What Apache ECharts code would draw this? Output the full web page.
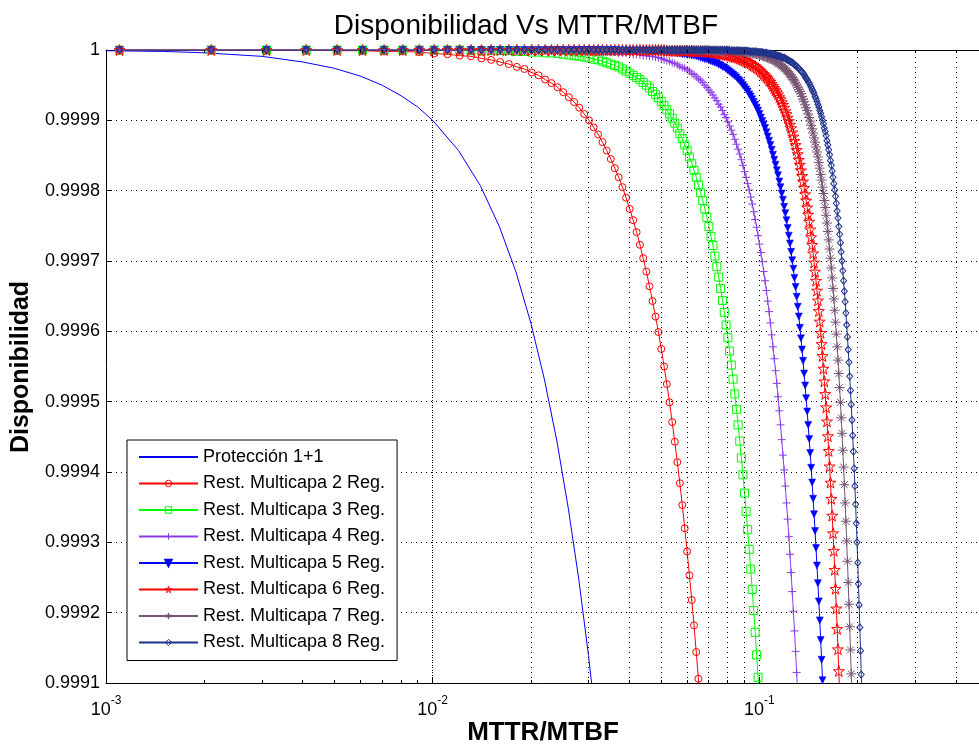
<!DOCTYPE html>
<html><head><meta charset="utf-8">
<script src="https://cdn.jsdelivr.net/npm/echarts@6/dist/echarts.min.js"></script>
<style>html,body{margin:0;padding:0;background:#fff}#c{width:979px;height:746px}</style>
</head><body><div id="c"></div>
<script>
const FONT = '"Liberation Sans", Arial, Helvetica, sans-serif';

// MTTR/MTBF sample positions (x) shared by the marker series
const mttrRatio = [
0.0011,0.0021,0.0031,0.0041,0.0051,0.0061,0.0071,0.0081,0.0091,0.0101,
0.0111,0.0121,0.0131,0.0141,0.0151,0.0161,0.0171,0.0181,0.0191,0.0201,
0.0211,0.0221,0.0231,0.0241,0.0251,0.0261,0.0271,0.0281,0.0291,0.0301,
0.0311,0.0321,0.0331,0.0341,0.0351,0.0361,0.0371,0.0381,0.0391,0.0401,
0.0411,0.0421,0.0431,0.0441,0.0451,0.0461,0.0471,0.0481,0.0491,0.0501,
0.0511,0.0521,0.0531,0.0541,0.0551,0.0561,0.0571,0.0581,0.0591,0.0601,
0.0611,0.0621,0.0631,0.0641,0.0651,0.0661,0.0671,0.0681,0.0691,0.0701,
0.0711,0.0721,0.0731,0.0741,0.0751,0.0761,0.0771,0.0781,0.0791,0.0801,
0.0811,0.0821,0.0831,0.0841,0.0851,0.0861,0.0871,0.0881,0.0891,0.0901,
0.0911,0.0921,0.0931,0.0941,0.0951,0.0961,0.0971,0.0981,0.0991,0.1001,
0.1011,0.1021,0.1031,0.1041,0.1051,0.1061,0.1071,0.1081,0.1091,0.1101,
0.1111,0.1121,0.1131,0.1141,0.1151,0.1161,0.1171,0.1181,0.1191,0.1201,
0.1211,0.1221,0.1231,0.1241,0.1251,0.1261,0.1271,0.1281,0.1291,0.1301,
0.1311,0.1321,0.1331,0.1341,0.1351,0.1361,0.1371,0.1381,0.1391,0.1401,
0.1411,0.1421,0.1431,0.1441,0.1451,0.1461,0.1471,0.1481,0.1491,0.1501,
0.1511,0.1521,0.1531,0.1541,0.1551,0.1561,0.1571,0.1581,0.1591,0.1601,
0.1611,0.1621,0.1631,0.1641,0.1651,0.1661,0.1671,0.1681,0.1691,0.1701,
0.1711,0.1721,0.1731,0.1741,0.1751,0.1761,0.1771,0.1781,0.1791,0.1801,
0.1811,0.1821,0.1831,0.1841,0.1851,0.1861,0.1871,0.1881,0.1891,0.1901,
0.1911,0.1921,0.1931,0.1941,0.1951,0.1961,0.1971,0.1981,0.1991,0.2001,
0.2011,0.2021,0.2031,0.2041,0.2051,0.2061];

// Protección 1+1 (line only)
const protX = [0.001,0.0015,0.002,0.003,0.004,0.005,0.006,0.007,0.008,0.009,0.01,0.012,0.014,0.016,0.018,0.02,0.022,0.024,0.026,0.028,0.03,0.032];
const protY = [0.999999,0.999998,0.999996,0.999991,0.999983,0.999974,0.999963,0.99995,0.999935,0.999919,0.9999,0.999857,0.999807,0.999749,0.999684,0.999611,0.999531,0.999444,0.999349,0.999248,0.999139,0.999022];

const reg2 = [
1,1,1,1,0.999999,0.999999,0.999998,0.999998,0.999997,0.999995,
0.999994,0.999992,0.999991,0.999988,0.999986,0.999983,0.99998,0.999976,0.999973,0.999968,
0.999964,0.999958,0.999953,0.999947,0.99994,0.999933,0.999926,0.999918,0.999909,0.9999,
0.99989,0.99988,0.999869,0.999857,0.999845,0.999832,0.999819,0.999805,0.99979,0.999774,
0.999758,0.999741,0.999723,0.999704,0.999685,0.999664,0.999643,0.999621,0.999599,0.999575,
0.99955,0.999525,0.999499,0.999471,0.999443,0.999414,0.999384,0.999353,0.99932,0.999287,
0.999253,0.999218,0.999182,0.999144,0.999106,0.999066];

const reg3 = [
1,1,1,1,1,1,1,1,1,1,
1,1,0.999999,0.999999,0.999999,0.999999,0.999999,0.999998,0.999998,0.999997,
0.999997,0.999996,0.999996,0.999995,0.999994,0.999993,0.999992,0.999991,0.99999,0.999989,
0.999987,0.999986,0.999984,0.999982,0.99998,0.999978,0.999976,0.999973,0.99997,0.999967,
0.999964,0.999961,0.999958,0.999954,0.99995,0.999946,0.999941,0.999937,0.999932,0.999927,
0.999921,0.999915,0.999909,0.999903,0.999896,0.999889,0.999881,0.999874,0.999865,0.999857,
0.999848,0.999839,0.999829,0.999819,0.999808,0.999797,0.999786,0.999774,0.999762,0.999749,
0.999735,0.999722,0.999707,0.999692,0.999677,0.999661,0.999644,0.999627,0.999609,0.999591,
0.999572,0.999552,0.999532,0.999511,0.999489,0.999467,0.999444,0.99942,0.999396,0.99937,
0.999344,0.999318,0.99929,0.999262,0.999233,0.999203,0.999172,0.99914,0.999108,0.999075];

const reg4 = [
1,1,1,1,1,1,1,1,1,1,
1,1,1,1,1,1,1,1,1,1,
1,1,1,0.999999,0.999999,0.999999,0.999999,0.999999,0.999999,0.999999,
0.999998,0.999998,0.999998,0.999998,0.999997,0.999997,0.999996,0.999996,0.999996,0.999995,
0.999994,0.999994,0.999993,0.999992,0.999992,0.999991,0.999991,0.99999,0.999989,0.999988,
0.999986,0.999985,0.999984,0.999982,0.999981,0.999979,0.999977,0.999975,0.999974,0.999972,
0.99997,0.999967,0.999965,0.999962,0.999959,0.999957,0.999954,0.99995,0.999947,0.999943,
0.99994,0.999936,0.999932,0.999928,0.999923,0.999919,0.999914,0.999908,0.999904,0.999898,
0.999892,0.999886,0.99988,0.999873,0.999866,0.999859,0.999852,0.999844,0.999836,0.999827,
0.999819,0.99981,0.999801,0.999791,0.999781,0.99977,0.999759,0.999748,0.999736,0.999724,
0.999712,0.999699,0.999685,0.999672,0.999658,0.999643,0.999628,0.999612,0.999595,0.999578,
0.999561,0.999544,0.999526,0.999507,0.999487,0.999467,0.999446,0.999424,0.999403,0.99938,
0.999356,0.999333,0.999308,0.999283,0.999257,0.99923,0.999202,0.999174,0.999145,0.999115,
0.999084];

const reg5 = [
1,1,1,1,1,1,1,1,1,1,
1,1,1,1,1,1,1,1,1,1,
1,1,1,1,1,1,1,1,1,1,
1,1,1,1,1,1,0.999999,0.999999,0.999999,0.999999,
0.999999,0.999999,0.999999,0.999999,0.999999,0.999998,0.999998,0.999998,0.999998,0.999997,
0.999997,0.999997,0.999997,0.999996,0.999996,0.999995,0.999995,0.999994,0.999994,0.999993,
0.999993,0.999992,0.999992,0.999991,0.99999,0.999989,0.999988,0.999987,0.999987,0.999985,
0.999984,0.999983,0.999982,0.999981,0.999979,0.999978,0.999976,0.999975,0.999973,0.999971,
0.999969,0.999967,0.999965,0.999963,0.999961,0.999958,0.999956,0.999953,0.99995,0.999947,
0.999944,0.999941,0.999937,0.999934,0.99993,0.999926,0.999922,0.999918,0.999914,0.999909,
0.999904,0.999899,0.999894,0.999889,0.999883,0.999877,0.999871,0.999865,0.999858,0.999851,
0.999844,0.999837,0.999829,0.999822,0.999813,0.999805,0.999796,0.999787,0.999777,0.999768,
0.999758,0.999747,0.999736,0.999725,0.999713,0.999701,0.999689,0.999676,0.999663,0.999649,
0.999635,0.999621,0.999605,0.99959,0.999574,0.999558,0.99954,0.999523,0.999505,0.999486,
0.999467,0.999447,0.999427,0.999406,0.999385,0.999362,0.99934,0.999316,0.999292,0.999267,
0.999242,0.999216,0.999189,0.999161,0.999133,0.999104,0.999073];

const reg6 = [
1,1,1,1,1,1,1,1,1,1,
1,1,1,1,1,1,1,1,1,1,
1,1,1,1,1,1,1,1,1,1,
1,1,1,1,1,1,1,1,1,1,
1,1,1,1,1,1,1,1,1,1,
1,0.999999,0.999999,0.999999,0.999999,0.999999,0.999999,0.999999,0.999999,0.999999,
0.999999,0.999999,0.999998,0.999998,0.999998,0.999998,0.999998,0.999997,0.999997,0.999997,
0.999997,0.999996,0.999996,0.999996,0.999995,0.999995,0.999994,0.999994,0.999993,0.999993,
0.999992,0.999992,0.999991,0.99999,0.99999,0.999989,0.999988,0.999987,0.999986,0.999985,
0.999984,0.999983,0.999982,0.999981,0.999979,0.999978,0.999977,0.999975,0.999974,0.999972,
0.99997,0.999968,0.999966,0.999964,0.999962,0.99996,0.999957,0.999955,0.999952,0.999949,
0.999946,0.999943,0.99994,0.999937,0.999933,0.99993,0.999926,0.999922,0.999918,0.999913,
0.999909,0.999904,0.999899,0.999894,0.999889,0.999883,0.999877,0.999871,0.999865,0.999858,
0.999852,0.999844,0.999837,0.999829,0.999821,0.999813,0.999804,0.999795,0.999786,0.999776,
0.999766,0.999756,0.999745,0.999734,0.999723,0.999711,0.999698,0.999685,0.999672,0.999658,
0.999644,0.999629,0.999614,0.999598,0.999582,0.999565,0.999547,0.999529,0.999511,0.999492,
0.999472,0.999451,0.99943,0.999408,0.999385,0.999362,0.999338,0.999313,0.999288,0.999261,
0.999234,0.999206,0.999177,0.999148,0.999117,0.999086];

const reg7 = [
1,1,1,1,1,1,1,1,1,1,
1,1,1,1,1,1,1,1,1,1,
1,1,1,1,1,1,1,1,1,1,
1,1,1,1,1,1,1,1,1,1,
1,1,1,1,1,1,1,1,1,1,
1,1,1,1,1,1,1,1,1,1,
1,1,1,1,1,1,1,1,1,1,
0.999999,0.999999,0.999999,0.999999,0.999999,0.999999,0.999999,0.999999,0.999999,0.999999,
0.999999,0.999998,0.999998,0.999998,0.999998,0.999998,0.999998,0.999997,0.999997,0.999997,
0.999997,0.999996,0.999996,0.999996,0.999995,0.999995,0.999994,0.999994,0.999994,0.999993,
0.999993,0.999992,0.999991,0.999991,0.99999,0.999989,0.999988,0.999988,0.999987,0.999986,
0.999985,0.999984,0.999983,0.999981,0.99998,0.999979,0.999977,0.999976,0.999974,0.999973,
0.999971,0.999969,0.999967,0.999965,0.999963,0.999961,0.999958,0.999956,0.999953,0.99995,
0.999947,0.999944,0.999941,0.999938,0.999934,0.99993,0.999927,0.999922,0.999918,0.999914,
0.999909,0.999904,0.999899,0.999893,0.999888,0.999882,0.999875,0.999869,0.999862,0.999855,
0.999848,0.99984,0.999832,0.999823,0.999815,0.999805,0.999796,0.999786,0.999776,0.999765,
0.999754,0.999742,0.99973,0.999717,0.999704,0.99969,0.999676,0.999661,0.999646,0.99963,
0.999613,0.999596,0.999578,0.999559,0.99954,0.99952,0.999499,0.999477,0.999455,0.999431,
0.999407,0.999382,0.999356,0.99933,0.999302,0.999273,0.999243,0.999212,0.99918,0.999147,
0.999113,0.999078];

const reg8 = [
1,1,1,1,1,1,1,1,1,1,
1,1,1,1,1,1,1,1,1,1,
1,1,1,1,1,1,1,1,1,1,
1,1,1,1,1,1,1,1,1,1,
1,1,1,1,1,1,1,1,1,1,
1,1,1,1,1,1,1,1,1,1,
1,1,1,1,1,1,1,1,1,1,
1,1,1,1,1,1,1,1,1,1,
0.999999,0.999999,0.999999,0.999999,0.999999,0.999999,0.999999,0.999999,0.999999,0.999999,
0.999999,0.999999,0.999998,0.999998,0.999998,0.999998,0.999998,0.999998,0.999997,0.999997,
0.999997,0.999997,0.999996,0.999996,0.999996,0.999995,0.999995,0.999995,0.999994,0.999994,
0.999993,0.999993,0.999992,0.999992,0.999991,0.999991,0.99999,0.999989,0.999989,0.999988,
0.999987,0.999986,0.999985,0.999984,0.999983,0.999982,0.999981,0.999979,0.999978,0.999977,
0.999975,0.999974,0.999972,0.99997,0.999969,0.999967,0.999965,0.999962,0.99996,0.999958,
0.999955,0.999953,0.99995,0.999947,0.999944,0.999941,0.999938,0.999934,0.999931,0.999927,
0.999923,0.999919,0.999914,0.99991,0.999905,0.9999,0.999895,0.999889,0.999884,0.999878,
0.999871,0.999865,0.999858,0.999851,0.999843,0.999836,0.999828,0.999819,0.99981,0.999801,
0.999792,0.999782,0.999771,0.999761,0.999749,0.999738,0.999726,0.999713,0.9997,0.999686,
0.999672,0.999657,0.999642,0.999626,0.999609,0.999592,0.999574,0.999556,0.999536,0.999516,
0.999496,0.999474,0.999452,0.999429,0.999405,0.99938,0.999354,0.999327,0.9993,0.999271,
0.999241,0.999211,0.999179,0.999146,0.999112,0.999077];

const seriesNames = ['Protección 1+1','Rest. Multicapa 2 Reg.','Rest. Multicapa 3 Reg.','Rest. Multicapa 4 Reg.','Rest. Multicapa 5 Reg.','Rest. Multicapa 6 Reg.','Rest. Multicapa 7 Reg.','Rest. Multicapa 8 Reg.'];
const seriesColors = ['#0000ff','#ff0000','#00ff00','#8c3ce6','#0000ff','#ff0000','#785573','#1e328c'];
const yTickLabels = ['0.9991','0.9992','0.9993','0.9994','0.9995','0.9996','0.9997','0.9998','0.9999','1'];
const xTickValues = [0.001, 0.01, 0.1, 1];
const xTickExps = ['-3','-2','-1','0'];
const minorGridX = [0.002,0.003,0.004,0.005,0.006,0.007,0.008,0.009,0.02,0.03,0.04,0.05,0.06,0.07,0.08,0.09,0.2,0.3,0.4,0.5,0.6,0.7,0.8,0.9];

const Y_MIN = 0.9991, Y_MAX = 1;

const pairs = arr => arr.map((y, i) => [mttrRatio[i], y]);
const CLEAR = 'rgba(0,0,0,0)';

function markerSeries(idx, arr, symbol, size, filled, extra) {
  const color = seriesColors[idx];
  return Object.assign({
    name: seriesNames[idx], type: 'line', data: pairs(arr), symbol, symbolSize: size,
    lineStyle: { color, width: 1 },
    itemStyle: filled ? { color, borderColor: color, borderWidth: 0.5 } : { color: CLEAR, borderColor: color, borderWidth: 1 },
    emphasis: { disabled: true }
  }, extra || {});
}

const plusPath = 'path://M5,0L5,10M0,5L10,5';
const asteriskPath = 'path://M5,0L5,10M0,5L10,5M1.6,1.6L8.4,8.4M1.6,8.4L8.4,1.6';
const starPath = 'path://M50,0L61.8,35.3L99,35.3L69,57.1L80.4,92.7L50,70.9L19.6,92.7L31,57.1L1,35.3L38.2,35.3Z';

const tickLen = (Y_MAX - Y_MIN) * 3 / 633;
const minorTickSegs = [];
minorGridX.forEach(v => {
  minorTickSegs.push([{ coord: [v, Y_MIN] }, { coord: [v, Y_MIN + tickLen] }]);
  minorTickSegs.push([{ coord: [v, Y_MAX] }, { coord: [v, Y_MAX - tickLen] }]);
});

const xAxisBase = {
  type: 'log', logBase: 10, min: 0.001, max: 1,
  axisLine: { show: true, lineStyle: { color: '#000', width: 1 } },
  axisTick: { show: true, inside: true, length: 6, lineStyle: { color: '#000' } },
  minorTick: { show: false }, minorSplitLine: { show: false }
};

const legendData = seriesNames.map((n, i) => {
  if (i === 0) return { name: n, itemStyle: { color: CLEAR, borderColor: CLEAR, borderWidth: 0 } };
  if (i === 4) return { name: n };
  return { name: n, itemStyle: { color: CLEAR, borderColor: seriesColors[i], borderWidth: 1 } };
});

const chart = echarts.init(document.getElementById('c'), null, { renderer: 'canvas' });
chart.setOption({
  animation: false,
  backgroundColor: '#fff',
  textStyle: { fontFamily: FONT },
  grid: { left: 106, right: -107, top: 50, bottom: 63, containLabel: false, outerBoundsMode: 'none' },
  xAxis: [
    Object.assign({}, xAxisBase, {
      position: 'bottom',
      axisLabel: {
        margin: 12, color: '#000',
        formatter: v => {
          const i = xTickValues.findIndex(t => Math.abs(Math.log10(t) - Math.log10(v)) < 1e-6);
          return i < 0 ? '' : '{b|10}{s|' + xTickExps[i] + '}';
        },
        rich: {
          b: { fontSize: 18, fontFamily: FONT, color: '#000', lineHeight: 24, verticalAlign: 'bottom' },
          s: { fontSize: 12, fontFamily: FONT, color: '#000', lineHeight: 12, verticalAlign: 'top' }
        }
      },
      splitLine: { show: true, lineStyle: { color: '#000', width: 1, type: [1, 4] } }
    }),
    Object.assign({}, xAxisBase, {
      position: 'top', axisLabel: { show: false }, splitLine: { show: false }
    })
  ],
  yAxis: {
    type: 'value', min: Y_MIN, max: Y_MAX, interval: 0.0001,
    axisLine: { show: true, lineStyle: { color: '#000', width: 1 } },
    axisTick: { show: true, inside: true, length: 6, lineStyle: { color: '#000' } },
    axisLabel: {
      color: '#000', fontSize: 18, fontFamily: FONT, margin: 6,
      formatter: v => {
        const idx = Math.round((v - Y_MIN) / 0.0001);
        return yTickLabels[idx] !== undefined ? yTickLabels[idx] : '';
      }
    },
    splitLine: { show: true, lineStyle: { color: '#000', width: 1, type: [1, 4] } }
  },
  legend: {
    orient: 'vertical', left: 127, top: 440,
    itemWidth: 59, itemHeight: 8, itemGap: 8.5,
    padding: [8, 12, 9, 11],
    backgroundColor: '#fff', borderColor: '#000', borderWidth: 1, borderRadius: 0,
    selectedMode: false,
    textStyle: { fontSize: 18, color: '#000', fontFamily: FONT },
    data: legendData
  },
  graphic: [
    { type: 'text', x: 526, y: 26, z: 10, style: { text: 'Disponibilidad Vs MTTR/MTBF', font: '28px ' + FONT, fill: '#000', textAlign: 'center', textVerticalAlign: 'middle', align: 'center', verticalAlign: 'middle' } },
    { type: 'text', x: 543, y: 733, z: 10, style: { text: 'MTTR/MTBF', font: 'bold 26px ' + FONT, fill: '#000', textAlign: 'center', textVerticalAlign: 'middle', align: 'center', verticalAlign: 'middle' } },
    { type: 'text', x: 21, y: 367, rotation: Math.PI / 2, z: 10, style: { text: 'Disponibilidad', font: 'bold 25px ' + FONT, fill: '#000', textAlign: 'center', textVerticalAlign: 'middle', align: 'center', verticalAlign: 'middle' } }
  ],
  series: [
    {
      type: 'line', data: [], z: 1, silent: true,
      markLine: {
        silent: true, symbol: ['none', 'none'], label: { show: false }, animation: false,
        lineStyle: { color: '#000', width: 1, type: [1, 4] },
        emphasis: { disabled: true },
        data: minorGridX.map(v => ({ xAxis: v }))
      }
    },
    {
      type: 'line', data: [], z: 1, silent: true,
      markLine: {
        silent: true, symbol: ['none', 'none'], label: { show: false }, animation: false,
        lineStyle: { color: '#000', width: 1, type: 'solid' },
        emphasis: { disabled: true },
        data: minorTickSegs
      }
    },
    {
      name: seriesNames[0], type: 'line', data: protX.map((x, i) => [x, protY[i]]),
      symbol: 'none', smooth: false,
      lineStyle: { color: seriesColors[0], width: 1 }, itemStyle: { color: seriesColors[0] },
      emphasis: { disabled: true }
    },
    markerSeries(1, reg2, 'circle', 7, false),
    markerSeries(2, reg3, 'rect', 8, false),
    markerSeries(3, reg4, plusPath, 8, false),
    markerSeries(4, reg5, 'triangle', 7, true, { symbolRotate: 180 }),
    markerSeries(5, reg6, starPath, 11, false),
    markerSeries(6, reg7, asteriskPath, 10, false),
    markerSeries(7, reg8, 'diamond', [6, 7], false)
  ]
});
</script>
</body></html>
